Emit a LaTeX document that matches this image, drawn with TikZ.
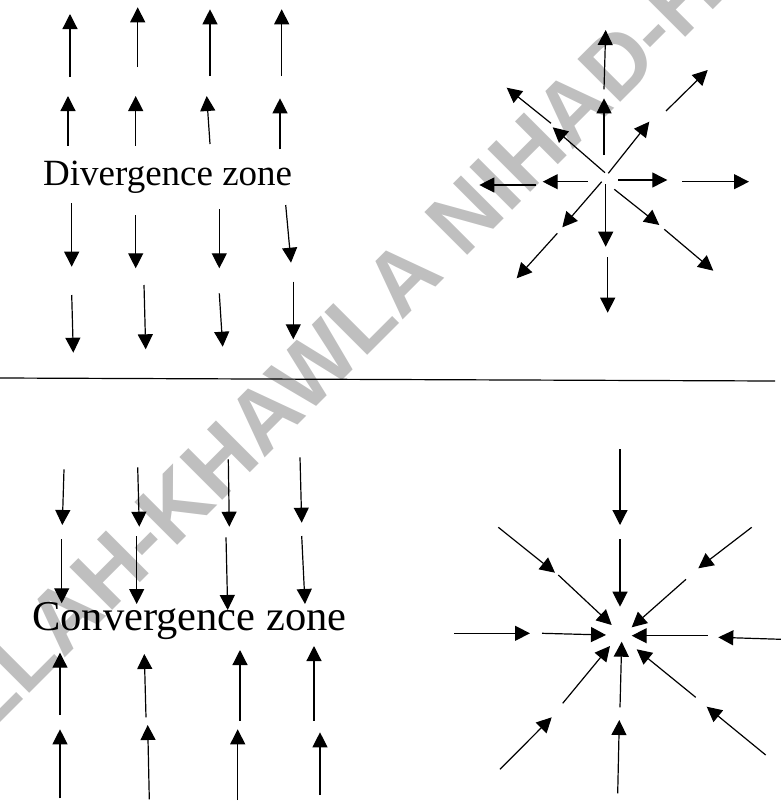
\documentclass[tikz,border=0pt]{standalone}
\usepackage{fontspec}
\setmainfont{Liberation Serif}
\newfontfamily\wmfont{Liberation Sans}
\usetikzlibrary{arrows.meta}
\begin{document}
\begin{tikzpicture}[x=1pt,y=-1pt,
  arr/.style={-{Triangle[width=15pt,length=15pt]}, line width=1.2pt, black},
  zone/.style={inner sep=0pt, anchor=base west, text=black},
  wm/.style={rotate=45, anchor=base west, inner sep=0pt, text=black!25,
    font=\wmfont\bfseries\fontsize{88}{88}\selectfont}]
\useasboundingbox (0,0) rectangle (781,801);
% watermark
\node[wm] (wmark) at (-58,781) {ALLAH-KHAWLA NIHAD-H};

% ---------- divergence grid ----------
% row 1 (up)
\draw[arr] (70,77) -- (70,14);
\draw[arr] (137.7,67) -- (137.7,7.3);
\draw[arr] (210,76) -- (210,9.3);
\draw[arr] (281.7,76) -- (281.7,9.3);
% row 2 (up)
\draw[arr] (68,145.7) -- (68,96);
\draw[arr] (135.7,145.7) -- (135.7,96);
\draw[arr] (210,144) -- (206.7,96);
\draw[arr] (280,149.3) -- (280,98.3);
% row 3 (down)
\draw[arr] (71.7,203.3) -- (71.7,266.7);
\draw[arr] (135.7,215) -- (135.7,268.3);
\draw[arr] (219.3,209.3) -- (219.3,268.3);
\draw[arr] (285.7,205) -- (291,262.7);
% row 4 (down)
\draw[arr] (71.7,295) -- (73.3,352.7);
\draw[arr] (144,285) -- (145.7,349.3);
\draw[arr] (219.3,293.3) -- (222.7,346.7);
\draw[arr] (293.3,281.7) -- (293.3,339.3);

\node[zone,font=\fontsize{37}{37}\selectfont] (div) at (43,185) {Divergence zone};

% ---------- divergence star ----------
\draw[arr] (604,155) -- (604,98.3);
\draw[arr] (604,89.3) -- (605.7,30);
\draw[arr] (587.7,181.7) -- (542.7,181.7);
\draw[arr] (536,185) -- (479.3,185);
\draw[arr] (618.3,180) -- (667.3,180);
\draw[arr] (682.3,181.7) -- (749,181.7);
\draw[arr] (605.7,184) -- (605.7,246.7);
\draw[arr] (607.7,257.3) -- (607.7,312.7);
\draw[arr] (605,172.7) -- (552.7,127.3);
\draw[arr] (551,123.3) -- (506.7,87.7);
\draw[arr] (608.3,173.3) -- (649.3,121.7);
\draw[arr] (666,111) -- (707.7,70);
\draw[arr] (601.7,181.7) -- (562.3,227.3);
\draw[arr] (557.3,233.3) -- (516.7,278.3);
\draw[arr] (614.3,189.3) -- (659.3,225);
\draw[arr] (664.3,229.3) -- (713.3,270.7);

% separator
\draw[line width=1.2pt] (0,378) -- (775,381);

% ---------- convergence grid ----------
% row 1 (down)
\draw[arr] (64,469.3) -- (62.3,525);
\draw[arr] (137.7,467.3) -- (139.3,526.7);
\draw[arr] (228.3,459.3) -- (229.3,526.7);
\draw[arr] (300,457.3) -- (301.7,522.7);
% row 2 (down)
\draw[arr] (61.7,539.3) -- (61.7,603.3);
\draw[arr] (136.7,536) -- (136.7,604);
\draw[arr] (226,537.3) -- (227.7,610);
\draw[arr] (301.7,536) -- (305,604);
% row 3 (up)
\draw[arr] (60,715) -- (60,652.7);
\draw[arr] (146,717.3) -- (144.3,654);
\draw[arr] (240,720.7) -- (240,650);
\draw[arr] (314,720.7) -- (314,646);
% row 4 (up)
\draw[arr] (60,798.3) -- (60,729.3);
\draw[arr] (149.3,799.3) -- (147.7,725);
\draw[arr] (237.7,800) -- (237.7,729.3);
\draw[arr] (320,795) -- (320,732.3);

\node[zone,font=\fontsize{42.5}{42.5}\selectfont] (conv) at (32,630) {Convergence zone};

% ---------- convergence star ----------
\draw[arr] (620,449.3) -- (620,525);
\draw[arr] (620,539.3) -- (620,606.7);
\draw[arr] (498.3,527.3) -- (555,572.7);
\draw[arr] (558.3,575) -- (611.7,625);
\draw[arr] (751.7,527.3) -- (698.3,568.3);
\draw[arr] (686,579.3) -- (631.7,627.3);
\draw[arr] (454,633.3) -- (530,633.3);
\draw[arr] (542,633.3) -- (606,635);
\draw[arr] (781,639.3) -- (718.3,637.3);
\draw[arr] (707.7,635.7) -- (631.7,635.7);
\draw[arr] (562.7,703.3) -- (610,646);
\draw[arr] (500,769.3) -- (551.7,717.3);
\draw[arr] (620,707.3) -- (621.7,641.7);
\draw[arr] (617.7,793.3) -- (619.3,720);
\draw[arr] (695.7,697.3) -- (636.7,649.3);
\draw[arr] (765.7,755) -- (706.7,706.7);
\end{tikzpicture}
\end{document}
